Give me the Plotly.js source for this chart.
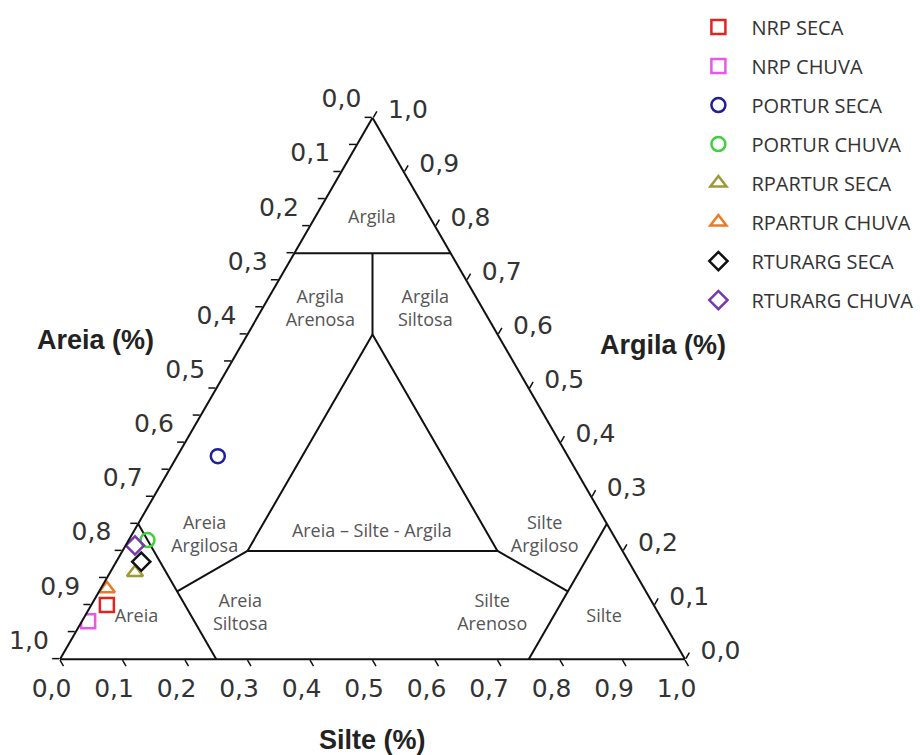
<!DOCTYPE html>
<html>
<head>
<meta charset="utf-8">
<script src="https://cdn.plot.ly/plotly-3.0.1.min.js"></script>
<style>html,body{margin:0;padding:0;background:#fff}</style>
</head>
<body>
<div id="chart" style="width:920px;height:755px"></div>
<script>
// Amostras (fração de Argila, Areia e Silte)
const amostras = ['NRP SECA', 'NRP CHUVA', 'PORTUR SECA', 'PORTUR CHUVA',
                  'RPARTUR SECA', 'RPARTUR CHUVA', 'RTURARG SECA', 'RTURARG CHUVA'];
const argila = [0.100, 0.070, 0.375, 0.220, 0.160, 0.130, 0.180, 0.210];
const areia  = [0.875, 0.920, 0.560, 0.750, 0.800, 0.860, 0.780, 0.775];
const silte  = [0.025, 0.010, 0.065, 0.030, 0.040, 0.010, 0.040, 0.015];
const cores = ['#e0251f', '#e659e6', '#1f1f9a', '#3fcf3f',
               '#9c9a35', '#ea7a25', '#111111', '#7a35b0'];
const simbolos = ['square-open', 'square-open', 'circle-open', 'circle-open',
                  'triangle-up-open', 'triangle-up-open', 'diamond-open', 'diamond-open'];

// Limites das classes texturais (Shepard): cada segmento em [Argila, Areia, Silte]
const limites = [
  [[0.75, 0.25, 0.00], [0.75, 0.00, 0.25]],
  [[0.75, 0.125, 0.125], [0.60, 0.20, 0.20]],
  [[0.25, 0.75, 0.00], [0.00, 0.75, 0.25]],
  [[0.125, 0.75, 0.125], [0.20, 0.60, 0.20]],
  [[0.00, 0.25, 0.75], [0.25, 0.00, 0.75]],
  [[0.125, 0.125, 0.75], [0.20, 0.20, 0.60]],
  [[0.60, 0.20, 0.20], [0.20, 0.60, 0.20], [0.20, 0.20, 0.60], [0.60, 0.20, 0.20]]
];

// Nomes das classes e posição do rótulo [Argila, Areia, Silte]
const classes = ['Argila', 'Argila<br>Arenosa', 'Argila<br>Siltosa', 'Areia – Silte - Argila',
                 'Areia<br>Argilosa', 'Silte<br>Argiloso', 'Areia', 'Areia<br>Siltosa',
                 'Silte<br>Arenoso', 'Silte'];
const classeArgila = [0.814, 0.645, 0.645, 0.234, 0.227, 0.227, 0.077, 0.083, 0.083, 0.077];
const classeAreia  = [0.094, 0.261, 0.093, 0.384, 0.655, 0.111, 0.839, 0.670, 0.267, 0.091];
const classeSilte  = [0.092, 0.094, 0.262, 0.382, 0.118, 0.662, 0.084, 0.247, 0.650, 0.832];

// Marcas dos eixos: cada lado mostra o complemento do eixo nativo.
// Lado esquerdo (Areia): marcas a cada 0,05, rótulos a cada 0,1
const tickValsAreia = [0, 0.05, 0.1, 0.15, 0.2, 0.25, 0.3, 0.35, 0.4, 0.45, 0.5,
                       0.55, 0.6, 0.65, 0.7, 0.75, 0.8, 0.85, 0.9, 0.95, 1];
const tickTextAreia = ['1,0', '', '0,9', '', '0,8', '', '0,7', '', '0,6', '', '0,5',
                       '', '0,4', '', '0,3', '', '0,2', '', '0,1', '', '0,0'];
// Base (Silte) e lado direito (Argila)
const tickVals = [0, 0.1, 0.2, 0.3, 0.4, 0.5, 0.6, 0.7, 0.8, 0.9, 1];
const tickText = ['1,0', '0,9', '0,8', '0,7', '0,6', '0,5', '0,4', '0,3', '0,2', '0,1', '0,0'];

const NB = '\u00A0';

const traces = [];

limites.forEach(seg => {
  traces.push({
    type: 'scatterternary', mode: 'lines',
    a: seg.map(p => p[0]), b: seg.map(p => p[1]), c: seg.map(p => p[2]),
    line: {color: '#111', width: 2},
    hoverinfo: 'skip', showlegend: false
  });
});

traces.push({
  type: 'scatterternary', mode: 'text',
  a: classeArgila, b: classeAreia, c: classeSilte,
  text: classes,
  textfont: {family: 'Open Sans, sans-serif', size: 18, color: '#555'},
  hoverinfo: 'skip', showlegend: false
});

amostras.forEach((nome, i) => {
  traces.push({
    type: 'scatterternary', mode: 'markers', name: nome,
    legendgroup: 'g' + i,
    a: [argila[i]], b: [areia[i]], c: [silte[i]],
    marker: {symbol: simbolos[i], size: 14, color: cores[i], line: {width: 2.5, color: cores[i]}}
  });
});

const eixoBase = {
  tickmode: 'array',
  showgrid: false, showline: true, linecolor: '#111', linewidth: 2,
  ticks: 'outside', ticklen: 7, tickwidth: 1.5, tickcolor: '#111',
  tickfont: {family: 'DejaVu Sans, sans-serif', size: 25, color: '#333'},
  title: {text: ''}
};

const layout = {
  width: 920, height: 755,
  margin: {l: 0, r: 0, t: 0, b: 0},
  paper_bgcolor: '#fff',
  font: {family: 'Liberation Sans, Arial, sans-serif'},
  ternary: {
    sum: 1,
    domain: {x: [60 / 920, 685 / 920], y: [95 / 755, 638 / 755]},
    bgcolor: '#fff',
    // rótulos da Areia ficam um pouco acima da marca
    aaxis: Object.assign({}, eixoBase, {
      tickvals: tickValsAreia,
      ticktext: tickTextAreia.map(t => t ? t + '<br>' + NB : '')
    }),
    // rótulos do Silte ficam ligeiramente à esquerda da marca
    baxis: Object.assign({}, eixoBase, {
      tickvals: tickVals,
      ticktext: tickText.map(t => t + NB + NB + NB)
    }),
    caxis: Object.assign({}, eixoBase, {
      tickvals: tickVals,
      ticktext: tickText.map(t => NB + t)
    })
  },
  showlegend: true,
  legend: {
    x: 0.745, y: 0.99, xanchor: 'left', yanchor: 'top',
    traceorder: 'grouped', tracegroupgap: 10, itemwidth: 56,
    font: {family: 'Open Sans, sans-serif', size: 20, color: '#333'},
    bgcolor: 'rgba(0,0,0,0)'
  },
  annotations: [
    {text: '<b>Areia (%)</b>', x: 95 / 920, y: 1 - 340 / 755, xref: 'paper', yref: 'paper',
     xanchor: 'center', yanchor: 'middle', showarrow: false, font: {size: 27, color: '#222'}},
    {text: '<b>Argila (%)</b>', x: 663 / 920, y: 1 - 345 / 755, xref: 'paper', yref: 'paper',
     xanchor: 'center', yanchor: 'middle', showarrow: false, font: {size: 27, color: '#222'}},
    {text: '<b>Silte (%)</b>', x: 372 / 920, y: 1 - 740 / 755, xref: 'paper', yref: 'paper',
     xanchor: 'center', yanchor: 'middle', showarrow: false, font: {size: 27, color: '#222'}}
  ]
};

Plotly.newPlot('chart', traces, layout, {displayModeBar: false, staticPlot: true});
</script>
</body>
</html>
